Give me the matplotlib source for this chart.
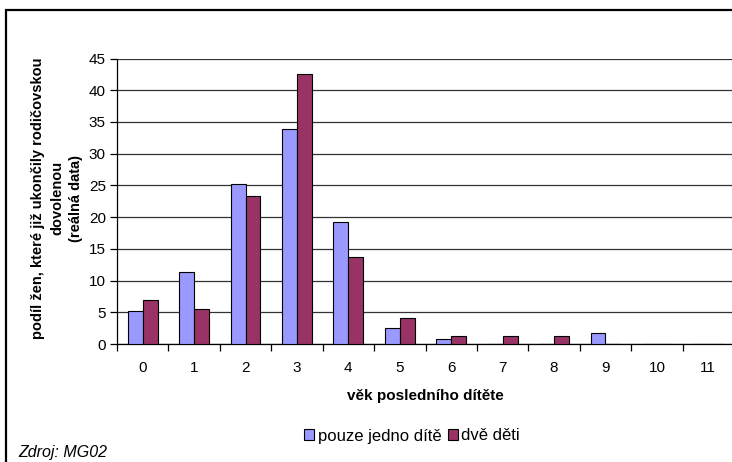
import numpy as np
import matplotlib
matplotlib.use("Agg")
import matplotlib.pyplot as plt
from matplotlib.patches import Rectangle

plt.rcParams['font.family'] = ['Liberation Sans', 'DejaVu Sans']

# data
vek = ["0", "1", "2", "3", "4", "5", "6", "7", "8", "9", "10", "11"]
jedno_dite = [5.2, 11.3, 25.2, 33.9, 19.2, 2.6, 0.8, 0, 0, 1.7, 0, 0]
dve_deti = [6.9, 5.5, 23.3, 42.6, 13.7, 4.1, 1.3, 1.3, 1.3, 0, 0, 0]
yticks = [0, 5, 10, 15, 20, 25, 30, 35, 40, 45]

W, H = 732, 462
fig = plt.figure(figsize=(W / 100, H / 100), dpi=100)

# ramecek kolem celeho grafu (vpravo a dole oriznuty)
fig.patches.append(Rectangle((6 / W, -0.1), 1.2, 1 - 10 / H + 0.1, transform=fig.transFigure,
                             fill=False, edgecolor='black', linewidth=1.6))

ax = fig.add_axes([117 / W, 118 / H, 617 / W, 285.5 / H])
x = np.arange(len(vek))
bw = 0.29
ax.bar(x - bw / 2, jedno_dite, bw, color='#9999FF', edgecolor='black', linewidth=0.8,
       label='pouze jedno dítě', zorder=3)
ax.bar(x + bw / 2, dve_deti, bw, color='#993366', edgecolor='black', linewidth=0.8,
       label='dvě děti', zorder=3)

ax.set_xlim(-0.5, len(vek) - 0.5)
ax.set_ylim(0, 45)
ax.set_yticks(yticks)
ax.yaxis.grid(True, color='#333333', linewidth=0.9, zorder=0)
ax.set_xticks(x)
ax.set_xticklabels(vek)
ax.set_xticks(np.arange(-0.5, len(vek), 1), minor=True)
ax.tick_params(axis='x', which='major', length=0, pad=12, labelsize=11)
ax.tick_params(axis='x', which='minor', length=5, width=0.9, direction='out')
ax.tick_params(axis='y', length=5, width=0.9, direction='out', labelsize=11, pad=3)

for s in ['top', 'right']:
    ax.spines[s].set_visible(False)
ax.spines['left'].set_linewidth(0.9)
ax.spines['bottom'].set_linewidth(0.9)

ax.set_xlabel('věk posledního dítěte', fontsize=11, fontweight='bold', labelpad=10)
ax.set_ylabel('podíl žen, které již ukončily rodičovskou\ndovolenou\n(reálná data)',
              fontsize=10.5, fontweight='bold', linespacing=1.45)
ax.yaxis.set_label_coords(-34 / 617, 0.51)

fig.legend(loc='center', bbox_to_anchor=(412 / W, 1 - 436 / H), ncol=2, frameon=False,
           fontsize=12, handlelength=0.6, handleheight=0.6, handletextpad=0.2,
           columnspacing=0.4)

fig.text(18 / W, 1 - 452 / H, 'Zdroj: MG02', fontsize=11.5, style='italic', va='center')

fig.savefig('out.png', dpi=100)
